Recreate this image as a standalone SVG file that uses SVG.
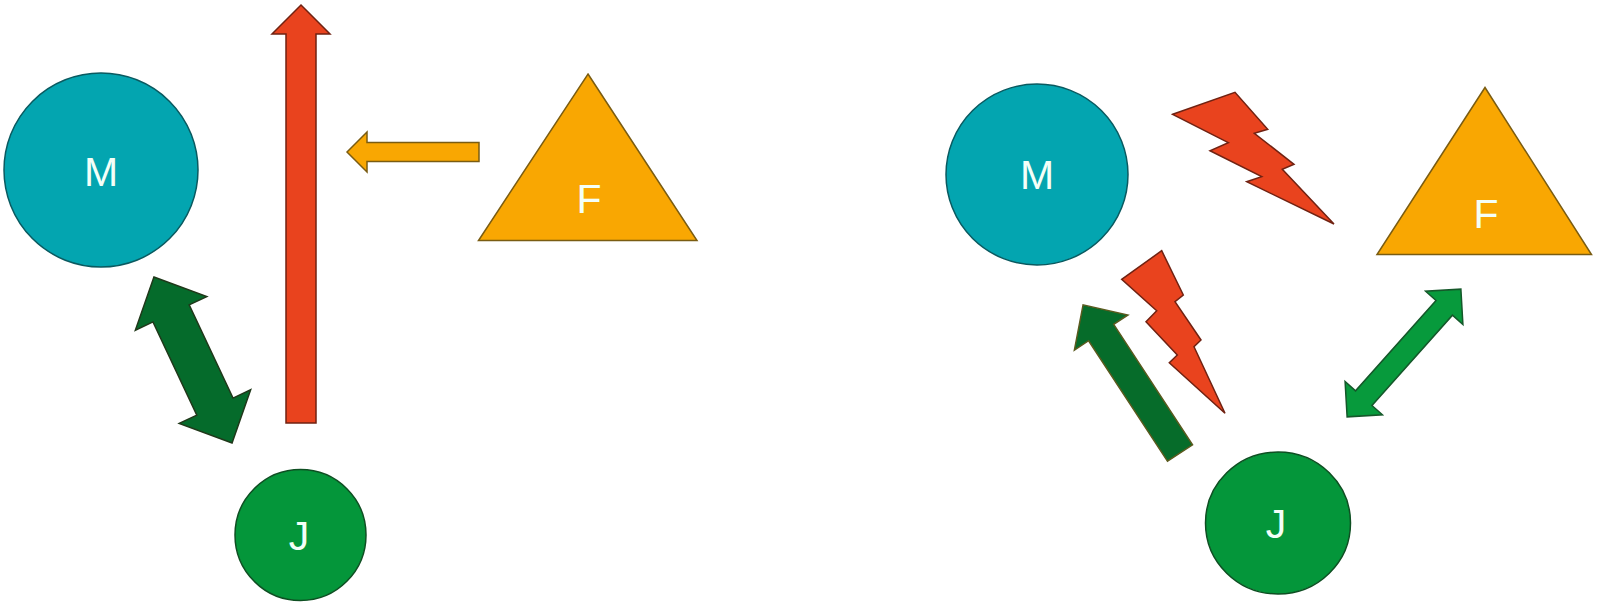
<svg xmlns="http://www.w3.org/2000/svg" width="1600" height="606" viewBox="0 0 1600 606">
  <style>
    .bg { fill: #ffffff; }
    .teal { fill: #03a5b0; stroke: #0a5a60; stroke-width: 1.5; }
    .jgreen { fill: #04963a; stroke: #0e4f22; stroke-width: 1.5; }
    .orange { fill: #f9a702; stroke: #7a5c12; stroke-width: 1.5; }
    .red { fill: #e9431e; stroke: #702212; stroke-width: 1.5; }
    .dkgreen { fill: #056b2b; stroke: #20381a; stroke-width: 1.5; }
    .dkgreen2 { fill: #066c2a; stroke: #5a5a1e; stroke-width: 1.5; }
    .mdgreen { fill: #079a3c; stroke: #15582a; stroke-width: 1.5; }
    .label { fill: #f4fff8; font-family: "Liberation Sans", Arial, sans-serif; font-weight: normal; font-size: 41px; text-anchor: middle; }
  </style>
  <rect class="bg" x="0" y="0" width="1600" height="606"/>

  <!-- Left scene nodes -->
  <g id="left-M">
    <ellipse class="teal" cx="101" cy="170" rx="97" ry="97"/>
    <text class="label" x="101" y="185.5">M</text>
  </g>
  <g id="left-F">
    <polygon class="orange" points="588,74 697,240.5 478.5,240.5"/>
    <text class="label" x="589" y="213">F</text>
  </g>
  <g id="left-J">
    <circle class="jgreen" cx="300.5" cy="535" r="65.5"/>
    <text class="label" x="299" y="550">J</text>
  </g>

  <!-- Right scene nodes -->
  <g id="right-M">
    <ellipse class="teal" cx="1037" cy="174.5" rx="91" ry="90.5"/>
    <text class="label" x="1037" y="189.3">M</text>
  </g>
  <g id="right-F">
    <polygon class="orange" points="1485,87.5 1591.5,254.5 1377,254.5"/>
    <text class="label" x="1486" y="227.7">F</text>
  </g>
  <g id="right-J">
    <ellipse class="jgreen" cx="1278" cy="523" rx="72.5" ry="71"/>
    <text class="label" x="1276" y="538">J</text>
  </g>

  <!-- Connectors -->
  <g id="connectors">
    <!-- left: red up arrow -->
    <polygon class="red" points="301,5 330,34 316,34 316,423 286,423 286,34 272,34"/>
    <!-- left: orange arrow from F pointing left -->
    <polygon class="orange" points="347,152 367,132 367,142.5 479,142.5 479,161.5 367,161.5 367,172"/>
    <!-- left: dark green double arrow M <-> J -->
    <polygon class="dkgreen" transform="translate(193,360) rotate(64.8)"
      points="-91.7,0 -51.5,-39.5 -51.5,-20 51.5,-20 51.5,-39.5 91.7,0 51.5,39.5 51.5,20 -51.5,20 -51.5,39.5"/>

    <!-- right: upper lightning bolt M-F -->
    <polygon class="red" points="1172.7,114.3 1235,92.3 1267.7,129.3 1254.3,133.3 1294,164.3 1282.3,169.3 1334,224 1246.7,181.7 1261.7,176.7 1210,150.7 1228.3,142.7"/>
    <!-- right: lower lightning bolt M-J -->
    <polygon class="red" points="1161.7,250.7 1183.3,295 1175,301.7 1201,340 1194,346.7 1225,413.3 1169.3,362.7 1177.3,355 1146,321.7 1156.7,310.7 1121.7,279.3"/>
    <!-- right: dark green arrow J -> M -->
    <polygon class="dkgreen2" transform="translate(1180,453) rotate(-123.2)"
      points="0,-15 144,-15 144,-32 177,0 144,32 144,15 0,15"/>
    <!-- right: green double arrow J <-> F -->
    <polygon class="mdgreen" transform="translate(1404,353) rotate(-48.3)"
      points="-85.5,0 -60.5,-25 -60.5,-11 60.5,-11 60.5,-25 85.5,0 60.5,25 60.5,11 -60.5,11 -60.5,25"/>
  </g>
</svg>
